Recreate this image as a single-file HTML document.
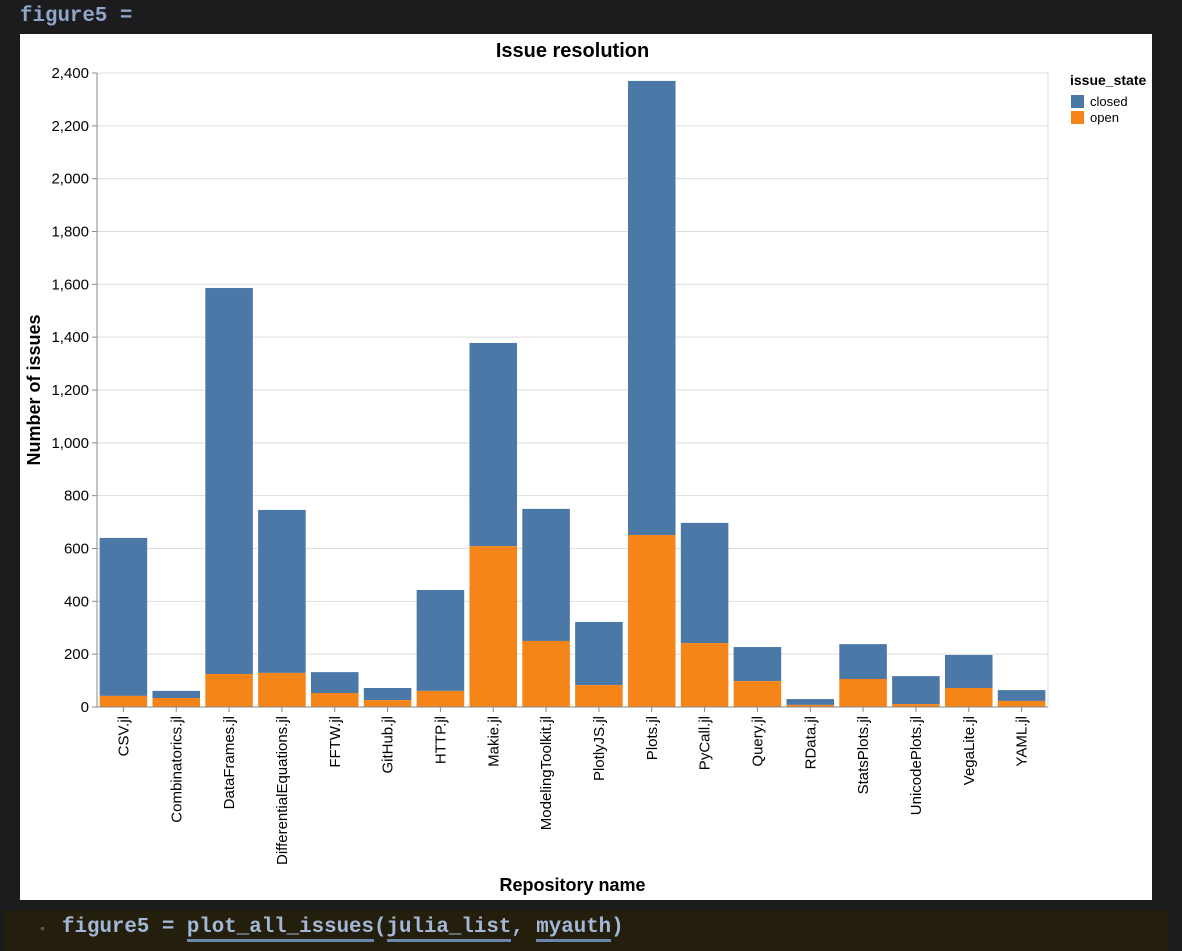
<!DOCTYPE html>
<html><head><meta charset="utf-8"><style>
body{margin:0;width:1182px;height:951px;background:#1c1c1e;position:relative;overflow:hidden;font-family:"Liberation Sans",sans-serif}
.mono{font-family:"Liberation Mono",monospace}
#top{position:absolute;left:20px;top:5px;color:#8fa6c8;font-size:20.8px;font-weight:bold}
#panel{position:absolute;left:20px;top:34px;width:1132px;height:866px;background:#fff}
#bottom{position:absolute;left:4px;top:910px;width:1165px;height:41px;background:#241f0c}
#code{position:absolute;left:58px;top:6px;font-size:20.8px;font-weight:bold;color:#a3b8d8}
#code u{text-decoration:none;border-bottom:3px solid #6d86b0}
</style></head><body>
<div id="top" class="mono">figure5 =</div>
<div id="panel">
<svg id="chart" width="1132" height="866"></svg>
</div>
<div id="bottom">
<span style="position:absolute;left:36px;top:10px;color:#555;font-size:14px">•</span>
<div id="code" class="mono">figure5 = <u>plot_all_issues</u>(<u>julia_list</u>, <u>myauth</u>)</div>
</div>
<script>
const categories=["CSV.jl","Combinatorics.jl","DataFrames.jl","DifferentialEquations.jl","FFTW.jl","GitHub.jl","HTTP.jl","Makie.jl","ModelingToolkit.jl","PlotlyJS.jl","Plots.jl","PyCall.jl","Query.jl","RData.jl","StatsPlots.jl","UnicodePlots.jl","VegaLite.jl","YAML.jl"];
const openVals=[42,34,125,129,53,26,61,609,250,83,651,242,98,8,106,11,72,23];
const closedVals=[598,27,1461,617,79,46,382,769,500,239,1719,455,129,22,132,106,125,41];
const yTicks=[0,200,400,600,800,1000,1200,1400,1600,1800,2000,2200,2400];
const NS="http://www.w3.org/2000/svg";
const svg=document.getElementById('chart');
const ox=20,oy=34;
const x0=97-ox,x1=1048-ox,y0=707-oy,y1=73-oy,yMax=2400;
const y=v=>y0-(v/yMax)*(y0-y1);
const step=(x1-x0)/categories.length;
const bx=i=>x0+i*step+step*0.05;
const bw=step*0.9;
function mk(t,a,txt){const e=document.createElementNS(NS,t);for(const k in a)e.setAttribute(k,a[k]);if(txt!==undefined)e.textContent=txt;svg.appendChild(e);return e;}
yTicks.forEach(t=>{
 const g=mk('line',{x1:x0,x2:x1,y1:y(t),y2:y(t),stroke:'#ddd'});
 
 
 const tk=mk('line',{x1:x0-5,x2:x0,y1:y(t),y2:y(t),stroke:'#888'});
 
 
 const l=mk('text',{x:x0-8,y:y(t)+5,'text-anchor':'end','font-size':15,fill:'#000'},t.toLocaleString('en-US'));
 
 
});
mk('line',{x1:x1,x2:x1,y1:y1,y2:y0,stroke:'#ddd'});
mk('line',{x1:x0,x2:x1,y1:y1,y2:y1,stroke:'#ddd'});
categories.forEach((c,i)=>{
 const tot=openVals[i]+closedVals[i];
 const r1=mk('rect',{x:bx(i),width:bw,y:y(tot),height:y(openVals[i])-y(tot),fill:'#4c78a8'});
 
 
 const r2=mk('rect',{x:bx(i),width:bw,y:y(openVals[i]),height:y0-y(openVals[i]),fill:'#f58518'});
 
 
 const cx=x0+(i+0.5)*step;
 const tk=mk('line',{x1:cx,x2:cx,y1:y0,y2:y0+5,stroke:'#888'});
 
 
 const l=mk('text',{transform:`translate(${cx+5},${y0+9}) rotate(-90)`,'text-anchor':'end','font-size':15,fill:'#000'},c);
 
 
});
const ax=mk('line',{x1:x0,x2:x0,y1:y1,y2:y0,stroke:'#888'});


const axx=mk('line',{x1:x0,x2:x1,y1:y0,y2:y0,stroke:'#888'});


const title=mk('text',{x:(x0+x1)/2,y:23,'text-anchor':'middle','font-size':20,'font-weight':'bold'},'Issue resolution');


const xt=mk('text',{x:(x0+x1)/2,y:857,'text-anchor':'middle','font-size':18,'font-weight':'bold'},'Repository name');


const yt=mk('text',{transform:`translate(20,${(y0+y1)/2}) rotate(-90)`,'text-anchor':'middle','font-size':18,'font-weight':'bold'},'Number of issues');


const lt=mk('text',{x:1050,y:51,'font-size':14,'font-weight':'bold'},'issue_state');


[['closed','#4c78a8'],['open','#f58518']].forEach((d,i)=>{
 const r=mk('rect',{x:1051,y:61+i*16,width:13,height:13,fill:d[1]});
 
 
 const t=mk('text',{x:1070,y:72+i*16,'font-size':13},d[0]);
 
 
});
</script>
</body></html>
